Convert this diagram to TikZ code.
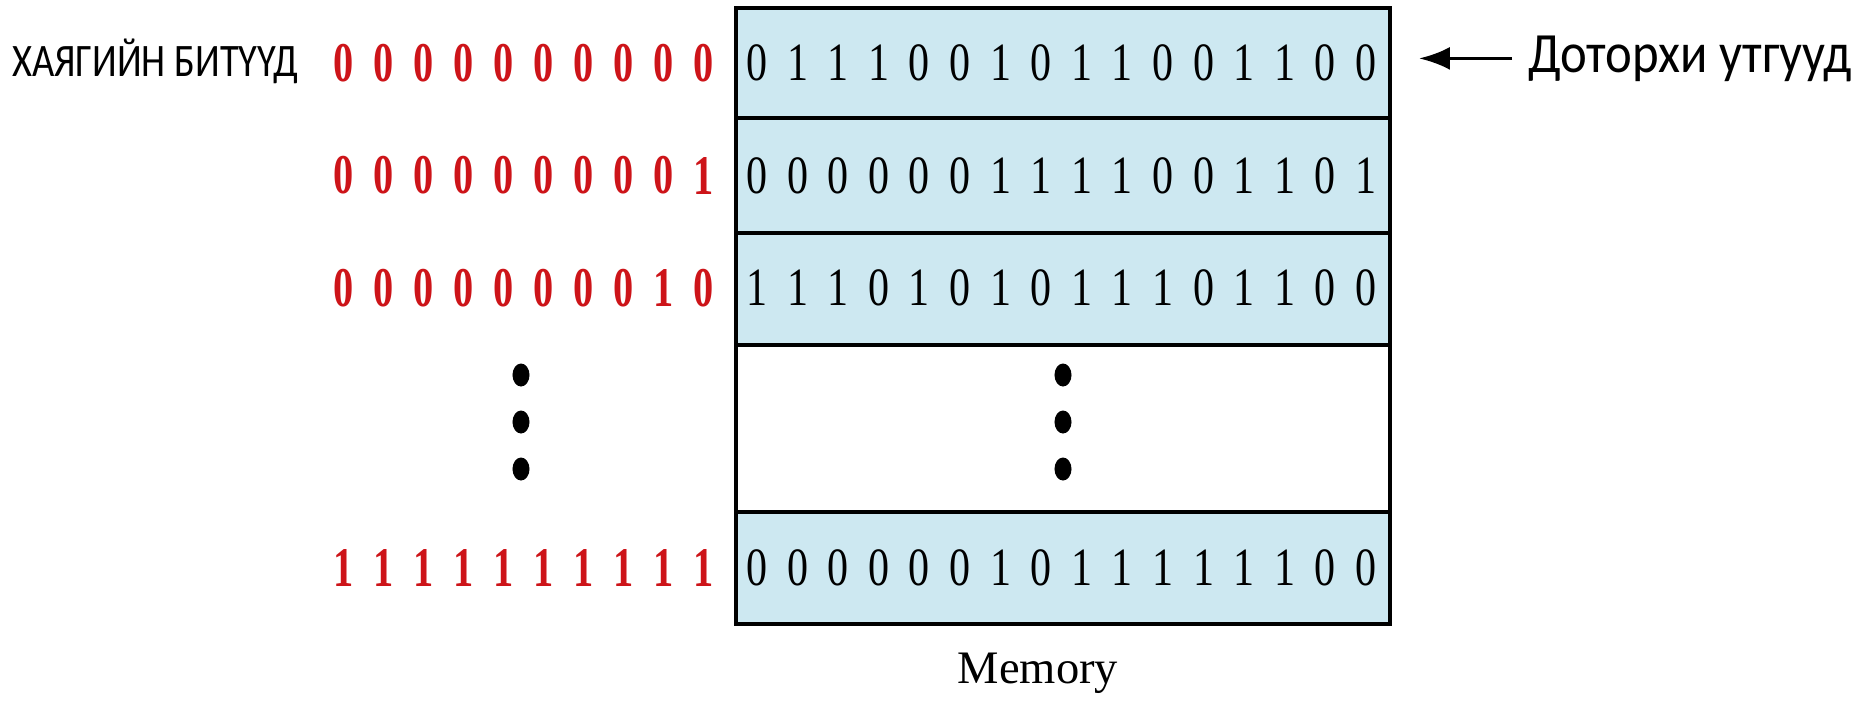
\documentclass[tikz,border=0pt]{standalone}
\usepackage{fontspec}
\setmainfont{Liberation Serif}
\newfontfamily\labelfont{Carlito}
\usetikzlibrary{arrows.meta,shapes.geometric}
\definecolor{cellblue}{RGB}{205,232,241}
\definecolor{adrred}{RGB}{205,20,25}

\begin{document}
\begin{tikzpicture}[x=0.02cm,y=-0.02cm,
  cell/.style={draw=black,line width=2.3pt,fill=cellblue},
  bit/.style={inner sep=0pt,font=\fontsize{30.7}{31}\selectfont},
  adr/.style={inner sep=0pt,text=adrred,font=\fontsize{31.9}{32}\selectfont\bfseries},
  dot/.style={ellipse,fill=black,inner sep=0pt,minimum width=9.7pt,minimum height=13.1pt}]
\useasboundingbox (0,0) rectangle (1872,707);

\draw[cell] (736,8) rectangle (1390,118);
\draw[cell] (736,118) rectangle (1390,233);
\draw[cell] (736,233) rectangle (1390,345);
\draw[cell,fill=white] (736,345) rectangle (1390,512);
\draw[cell] (736,512) rectangle (1390,624);

\foreach \y/\adrbits/\valbits [count=\r] in {
  63/{0,0,0,0,0,0,0,0,0,0}/{0,1,1,1,0,0,1,0,1,1,0,0,1,1,0,0},
  175.5/{0,0,0,0,0,0,0,0,0,1}/{0,0,0,0,0,0,1,1,1,1,0,0,1,1,0,1},
  288/{0,0,0,0,0,0,0,0,1,0}/{1,1,1,0,1,0,1,0,1,1,1,0,1,1,0,0},
  568/{1,1,1,1,1,1,1,1,1,1}/{0,0,0,0,0,0,1,0,1,1,1,1,1,1,0,0}}{
  \foreach \b [count=\i from 0] in \adrbits
    \node[adr] (a\r-\i) at (344+40*\i,\y) {\scalebox{0.72}[1]{\b}};
  \foreach \b [count=\i from 0] in \valbits
    \node[bit] (m\r-\i) at (757+40.6*\i,\y) {\scalebox{0.78}[1]{\b}};
}

\foreach \y [count=\i] in {375,422,469}{
  \node[dot] (ld\i) at (521,\y) {};
  \node[dot] (rd\i) at (1063,\y) {};
}

\node[anchor=base west,inner sep=0pt,font=\labelfont\fontsize{26.5}{27}\selectfont] (adrs) at (12,76) {\resizebox{5.72cm}{\height}{ХАЯГИЙН БИТҮҮД}};
\node[anchor=base west,inner xsep=9pt,inner ysep=0pt,font=\labelfont\fontsize{32.4}{33}\selectfont] (vals) at (1512,72) {\resizebox{6.48cm}{\height}{Доторхи утгууд}};
\coordinate (tip) at (1419,58);
\draw[-{Latex[length=17.5pt,width=13pt]},line width=2.1pt] (vals.west) -- (vals.west -| tip);

\node[anchor=base,inner sep=0pt,font=\fontsize{26.5}{27}\selectfont] (mem) at (1038,683) {Memory};
\end{tikzpicture}
\end{document}
